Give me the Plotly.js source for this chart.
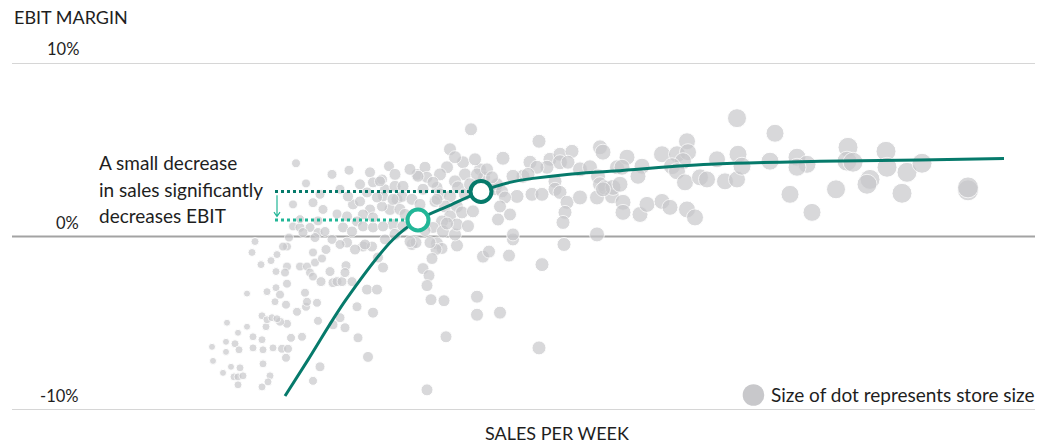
<!DOCTYPE html>
<html>
<head>
<meta charset="utf-8">
<script src="https://cdn.plot.ly/plotly-3.0.1.min.js"></script>
<style>html,body{margin:0;padding:0;background:#fff;}#chart{width:1048px;height:445px;}</style>
</head>
<body>
<div id="chart"></div>
<script>
// ---- Data (sales per week in arbitrary units, EBIT margin in %) ----
const salesPerWeek = [
  212,213,223,226,227,226,231,235,239,238,240,234,238,243,238,247,247,252,253,253,261,262,262,263,263,262,267,266,267,270,268,271,273,275,276,277,276,280,282,288,286,287,286,287,285,287,280,272,277,287,291,297,300,302,306,305,307,307,313,315,317,318,322,310,313,321,330,333,337,342,346,345,352,320,313,333,340,345,357,358,367,377,373,368,383,378,363,372,
  412,416,437,442,436,457,432,423,429,427,431,444,446,427,477,477,500,483,489,509,513,542,539,564,597,
  296,306,332,349,370,389,293,323,293,289,300,310,303,318,325,315,255,283,353,348,360,367,373,382,385,395,397,390,382,370,363,357,347,343,352,363,373,347,332,
  471,450,380,417,425,427,447,463,465,480,484,455,458,403,402,423,437,440,435,450,445,457,462,450,442,433,443,455,457,473,383,393,377,373,393,383,403,410,365,430,418,477,437,495,
  539,600,503,530,550,560,572,560,568,547,537,523,528,513,487,497,502,517,505,532,542,555,555,560,567,565,563,580,590,598,600,580,597,605,612,617,500,498,510,513,
  737,775,687,603,627,622,642,638,662,677,688,683,672,677,685,700,707,717,725,737,738,742,770,797,807,797,790,812,613,603,620,623,623,640,647,662,670,687,695,
  848,886,847,853,887,907,922,870,867,836,902,968,968,
  400,405,412,420,395,385,340,326,355,465,470,492,475,455,440,433,410,395,360,340,320,318,337,300,313,425,447,468
];
const ebitMargin = [
  -6.36,-7.17,-7.86,-6.07,-4.97,-6.65,-7.51,-6.18,-6.53,-5.55,-7.57,-8.09,-8.09,-8.03,-8.55,-5.20,-3.29,-0.92,-5.78,-6.42,-1.62,-4.57,-5.95,-7.34,-6.53,-8.67,-3.18,-5.20,-4.80,-8.03,-8.38,-1.39,-6.42,-3.76,-2.02,-1.04,-2.95,-3.35,-6.47,-6.47,-6.99,-2.72,-3.93,-1.73,-2.08,-5.03,-4.91,-4.68,-4.74,-0.58,-5.84,-4.34,-1.73,-5.78,-4.05,-3.24,-3.76,-1.73,-0.92,-1.50,-3.82,-4.86,-1.27,-2.08,-2.31,-2.60,-2.02,-2.66,-2.60,-2.60,-1.68,-2.08,-2.60,-7.51,-8.32,-5.09,-4.68,-5.26,-4.05,-5.84,-3.06,-3.06,-4.39,-6.94,-1.79,-1.21,-0.58,-0.58,
  -0.46,-0.35,-0.40,-0.69,-0.75,-0.52,-1.27,-1.85,-2.25,-2.83,-3.64,-3.70,-5.78,-8.84,-3.47,-4.51,-4.39,-1.16,-0.87,-1.10,-0.17,-1.62,-6.42,-0.46,0.12,
  4.22,3.06,3.58,3.82,3.70,4.05,1.85,1.56,0.58,-0.06,0.52,0.52,0.23,0.23,0.29,-0.06,-0.29,-0.58,1.85,2.31,2.02,2.54,3.12,3.29,2.72,2.89,2.14,1.56,1.73,1.56,1.27,0.87,1.16,0.52,0.29,0.58,0.52,-0.35,-0.17,
  6.18,5.03,3.18,3.58,3.99,3.41,3.99,4.28,3.58,3.87,3.41,3.18,2.83,2.89,2.31,2.72,2.83,2.43,2.02,2.31,1.73,1.73,1.39,1.16,0.87,0.52,0.29,0.12,0.69,1.45,2.31,2.14,2.25,1.10,0.69,0.58,0.58,-0.29,-0.46,-0.35,3.47,3.58,2.14,2.72,
  5.49,5.14,4.51,4.28,4.45,4.74,4.91,4.28,4.28,3.99,3.99,3.47,3.58,3.47,3.87,3.01,2.60,2.31,2.25,2.43,2.43,3.18,2.72,2.54,1.97,1.39,0.81,3.87,3.99,3.47,3.01,2.25,2.25,2.83,2.31,3.99,1.73,0.98,1.27,0.12,
  6.82,5.95,5.49,4.86,4.57,3.99,4.05,3.47,4.74,4.74,4.86,4.34,4.05,3.76,3.12,3.41,3.29,4.45,3.18,3.29,4.74,4.05,4.34,4.57,4.16,3.99,2.43,1.39,2.83,2.72,3.01,1.97,1.39,1.27,1.85,2.02,1.68,1.56,1.10,
  5.14,4.91,4.34,4.28,3.99,3.70,4.22,3.29,3.01,2.72,2.49,2.66,2.83,
  1.56,1.27,2.14,1.85,0.12,-0.17,-0.46,-0.75,-0.75,2.43,3.01,3.41,4.45,4.57,3.58,3.12,3.87,3.58,3.01,2.72,2.43,0.90,1.30,1.00,1.95,0.35,0.75,0.60
];
const storeSize = [
  6,6,6,6,6,6,6,7,7,6,7,7,7,7,7,6,6,7,7,7,7,7,7,7,7,7,7,7,7,7,7,7,7,7,7,7,7,8,8,8,8,8,8,8,8,8,8,7,7,8,8,8,8,8,8,8,8,8,8,8,8,8,8,8,8,9,9,9,9,9,9,9,9,9,8,9,9,9,9,9,10,10,10,10,10,10,10,10,
  11,11,12,11,11,12,11,11,11,11,11,11,11,11,12,12,12,12,12,12,12,13,13,13,14,
  8,8,9,9,10,10,8,9,8,8,9,9,9,9,9,9,7,8,10,10,10,10,10,10,10,11,11,11,10,10,10,10,10,10,10,10,10,10,9,
  12,12,10,11,11,11,12,12,12,12,12,12,12,11,11,11,11,12,11,12,12,12,12,12,12,11,12,12,12,12,10,11,10,10,11,10,11,11,10,11,11,12,11,12,
  13,14,13,13,13,13,13,14,13,13,13,13,13,13,12,12,12,13,12,13,13,13,13,13,13,13,13,14,14,14,14,14,14,14,14,14,12,12,12,12,
  18,17,16,15,15,15,15,15,16,16,16,16,16,16,16,16,16,16,16,16,17,17,17,17,17,17,17,17,15,14,15,15,15,15,15,15,15,16,16,
  19,19,19,19,19,19,19,19,19,18,19,20,20,
  11,11,11,11,11,10,9,9,10,12,12,12,12,12,12,11,11,11,10,9,9,9,9,8,9,11,12,12
];

// Trend curve
const curveSales  = [285, 308, 346, 393, 418, 450, 481, 494, 510, 533, 567, 610, 710, 820, 920, 1004];
const curveMargin = [-9.19, -7.11, -3.64, -0.17, 0.95, 1.80, 2.60, 2.86, 3.12, 3.35, 3.58, 3.76, 4.16, 4.33, 4.41, 4.49];

// Highlighted points: before (dark) and after (light) a small sales decrease
const highlightSales  = [481, 418];
const highlightMargin = [2.60, 0.95];

// Labels
const yTickValues = [10, 0, -10];
const yTickLabels = ['10%', '0%', '-10%'];
const noteLines = ['A small decrease', 'in sales significantly', 'decreases EBIT'];

const DARK = '#067a6b', LIGHT = '#22b697', GREY = '#c8c8cb', TXT = '#1e1e1e';
const FONT = 'Lato, "Noto Sans", sans-serif';
const guideStart = 275;
const OUTLINE = 1; // white outline width; marker drawn slightly larger so the grey disc keeps its read size

const traces = [
  {
    x: salesPerWeek, y: ebitMargin, type: 'scatter', mode: 'markers',
    marker: {size: storeSize.map(s => s + OUTLINE), color: GREY, line: {color: '#ffffff', width: OUTLINE}},
    hoverinfo: 'skip', showlegend: false
  },
  {
    x: curveSales, y: curveMargin, type: 'scatter', mode: 'lines',
    line: {color: DARK, width: 3, shape: 'spline', smoothing: 1},
    hoverinfo: 'skip', showlegend: false
  },
  {
    x: [guideStart, highlightSales[0]], y: [highlightMargin[0], highlightMargin[0]],
    type: 'scatter', mode: 'lines', line: {color: DARK, width: 3, dash: 'dot'},
    hoverinfo: 'skip', showlegend: false
  },
  {
    x: [guideStart, highlightSales[1]], y: [highlightMargin[1], highlightMargin[1]],
    type: 'scatter', mode: 'lines', line: {color: LIGHT, width: 3, dash: 'dot'},
    hoverinfo: 'skip', showlegend: false
  },
  {
    x: highlightSales, y: highlightMargin, type: 'scatter', mode: 'markers',
    marker: {size: 21, color: '#ffffff', line: {color: [DARK, LIGHT], width: 4}},
    hoverinfo: 'skip', showlegend: false
  }
];

const annotations = [];
yTickValues.forEach((v, i) => {
  annotations.push({
    xref: 'paper', yref: 'y', x: 0.0675, y: v, xanchor: 'right', yanchor: 'middle',
    yshift: 14, text: yTickLabels[i], showarrow: false,
    font: {family: FONT, size: 16.5, color: TXT}
  });
});
annotations.push({
  xref: 'paper', yref: 'paper', x: 0, y: 1.1326, xanchor: 'left', yanchor: 'middle',
  text: 'EBIT MARGIN', showarrow: false, font: {family: FONT, size: 18, color: TXT}
});
annotations.push({
  xref: 'paper', yref: 'paper', x: 0.533, y: -0.066, xanchor: 'center', yanchor: 'middle',
  text: 'SALES PER WEEK', showarrow: false, font: {family: FONT, size: 18, color: TXT}
});
const noteY = [4.28, 2.72, 1.21];
noteLines.forEach((t, i) => {
  annotations.push({
    xref: 'paper', yref: 'y', x: 0.083, y: noteY[i], xanchor: 'left', yanchor: 'middle',
    text: t, showarrow: false, font: {family: FONT, size: 19, color: TXT}
  });
});
annotations.push({
  xref: 'paper', yref: 'paper', x: 0.740, y: 0.046, xanchor: 'left', yanchor: 'middle',
  text: 'Size of dot represents store size', showarrow: false,
  font: {family: FONT, size: 19, color: TXT}
});

const arrowX = guideStart + 2;
const arrowTop = highlightMargin[0] - 0.22;
const arrowBot = highlightMargin[1] + 0.2;
const shapes = [
  {type: 'line', xref: 'paper', yref: 'y', x0: 0, x1: 1, y0: 10, y1: 10, layer: 'below', line: {color: '#c9c9c9', width: 1.5}},
  {type: 'line', xref: 'paper', yref: 'y', x0: 0, x1: 1, y0: 0, y1: 0, layer: 'below', line: {color: '#a3a3a3', width: 2}},
  {type: 'line', xref: 'paper', yref: 'y', x0: 0, x1: 1, y0: -10, y1: -10, layer: 'below', line: {color: '#c9c9c9', width: 1.5}},
  {type: 'path', xref: 'x', yref: 'y',
   path: `M${arrowX},${arrowTop} L${arrowX},${arrowBot} M${arrowX-3},${arrowBot+0.25} L${arrowX},${arrowBot} L${arrowX+3},${arrowBot+0.25}`,
   line: {color: LIGHT, width: 1.2}},
  {type: 'circle', xref: 'paper', yref: 'paper', xsizemode: 'pixel', ysizemode: 'pixel',
   xanchor: 0.7248, yanchor: 0.0432, x0: -10.8, x1: 10.8, y0: -10.8, y1: 10.8,
   fillcolor: GREY, line: {width: 0}}
];

const layout = {
  width: 1048, height: 445,
  margin: {l: 12, r: 13, t: 63, b: 35, pad: 0},
  paper_bgcolor: '#ffffff', plot_bgcolor: '#ffffff',
  showlegend: false,
  xaxis: {range: [12, 1035], showgrid: false, zeroline: false, showticklabels: false, ticks: '', showline: false, fixedrange: true},
  yaxis: {range: [-10, 10], showgrid: false, zeroline: false, showticklabels: false, ticks: '', showline: false, fixedrange: true},
  annotations: annotations,
  shapes: shapes,
  font: {family: FONT, color: TXT}
};

Plotly.newPlot('chart', traces, layout, {displayModeBar: false, staticPlot: true});
</script>
</body>
</html>
